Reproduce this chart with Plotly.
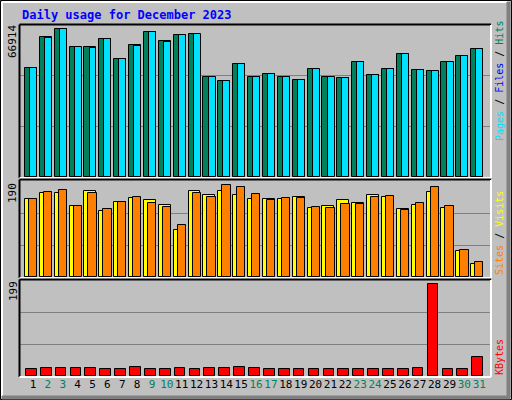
import plotly.graph_objects as go

days = list(range(1, 32))
hits = [47815, 61490, 65020, 57340, 57080, 60610, 51790, 57960, 63690, 59720, 62370, 62810,
        43850, 42080, 49580, 44110, 45170, 43850, 42520, 47370, 44110, 43400, 50460, 44730,
        47370, 53990, 46930, 46490, 50460, 53110, 56200]
files = [47815, 61050, 65020, 57340, 56640, 60610, 51790, 57520, 63690, 59290, 62370, 62810,
         43850, 42080, 49580, 44110, 45170, 43850, 42520, 47370, 44110, 43400, 50460, 44730,
         47370, 53990, 46930, 46490, 50460, 53110, 56200]
sites = [154, 166, 166, 140, 170, 130, 148, 156, 152, 142, 94, 170, 162, 170, 162, 154,
         154, 154, 158, 136, 140, 152, 146, 162, 158, 134, 142, 168, 136, 51, 25]
visits = [154, 168, 172, 140, 166, 134, 148, 158, 146, 138, 102, 166, 158, 183, 178, 164,
          152, 156, 156, 138, 136, 144, 144, 158, 160, 132, 146, 179, 140, 53, 29]
kbytes = [14, 16, 16, 16, 16, 14, 14, 18, 14, 14, 16, 14, 16, 16, 18, 16,
          14, 14, 14, 14, 14, 14, 14, 14, 14, 14, 16, 191, 14, 14, 39]
weekend = {2, 3, 9, 10, 16, 17, 23, 24, 30, 31}
max_hits, max_visits, max_kb = 66914, 190, 199

W, H = 512, 400
def fx(px): return px / W
def fy(py): return 1 - py / H

BG = "#C0C0C0"
fig = go.Figure()
blk = dict(color="black", width=1)
fig.add_bar(x=days, y=hits, width=0.8, offset=-0.54, marker=dict(color="#00805C", line=blk), xaxis="x", yaxis="y")
fig.add_bar(x=days, y=files, width=0.47, offset=-0.2, marker=dict(color="#00E0FF", line=blk), xaxis="x", yaxis="y")
fig.add_bar(x=days, y=sites, width=0.8, offset=-0.54, marker=dict(color="#FFFF00", line=blk), xaxis="x2", yaxis="y2")
fig.add_bar(x=days, y=visits, width=0.55, offset=-0.27, marker=dict(color="#FF8000", line=blk), xaxis="x2", yaxis="y2")
fig.add_bar(x=days, y=kbytes, width=0.72, offset=-0.47, marker=dict(color="#FF0000", line=blk), xaxis="x3", yaxis="y3")

xr = [0.128, 31.79]
xdom = [fx(20), fx(491)]
ticktext = [f'<span style="color:{"#00805C" if d in weekend else "black"}">{d}</span>' for d in days]
common_x = dict(range=xr, domain=xdom, showgrid=False, zeroline=False, showline=False, fixedrange=True)
def yax(top, bot, mx):
    return dict(range=[0, mx], domain=[fy(bot), fy(top)], tickvals=[mx / 3, 2 * mx / 3],
                showticklabels=False, showgrid=True, gridcolor="#808080", gridwidth=1,
                zeroline=False, showline=False, ticks="")
fig.update_layout(
    width=W, height=H, margin=dict(l=0, r=0, t=0, b=0),
    paper_bgcolor=BG, plot_bgcolor=BG, barmode="overlay", showlegend=False,
    bargap=0,
    xaxis=dict(**common_x, anchor="y", showticklabels=False),
    xaxis2=dict(**common_x, anchor="y2", showticklabels=False),
    xaxis3=dict(**common_x, anchor="y3", tickvals=days, ticktext=ticktext, ticks="",
                tickfont=dict(family="DejaVu Sans Mono", size=11), tickangle=0),
    yaxis=yax(25, 177, max_hits),
    yaxis2=yax(181, 277, max_visits),
    yaxis3=yax(280, 376, max_kb),
)

shapes = []
def line(x0, y0, x1, y1, c, w=1):
    shapes.append(dict(type="line", xref="paper", yref="paper", x0=fx(x0), y0=fy(y0), x1=fx(x1), y1=fy(y1),
                       line=dict(color=c, width=w)))
line(0.5, 0.5, 511.5, 0.5, "black"); line(0.5, 0.5, 0.5, 399.5, "black")
line(511.5, 0.5, 511.5, 399.5, "black"); line(0.5, 399.5, 511.5, 399.5, "black")
line(2, 2, 507, 2, "white", 2); line(2, 2, 2, 396, "white", 2)
line(508.5, 2, 508.5, 398, "#808080", 4); line(2, 397.5, 510, 397.5, "#808080", 4)
for top, bot in [(25, 177), (180, 277), (280, 376)]:
    line(19.5, top - 0.5, 491, top - 0.5, "black", 2)
    line(19.5, top - 0.5, 19.5, bot + 1, "black", 2)
    line(491, top, 491, bot + 1, "white", 2)
    line(19.5, bot + 1, 491, bot + 1, "white", 2)
fig.update_layout(shapes=shapes)

mono = "DejaVu Sans Mono"
def vtext(x, yc, text, size=11):
    return dict(x=fx(x), y=fy(yc), text=text, textangle=-90, xanchor="center", yanchor="middle",
                font=dict(family=mono, size=size, color="black"))
ann = [
    dict(x=fx(20), y=fy(15), text="<b>Daily usage for December 2023</b>", xanchor="left", yanchor="middle",
         font=dict(family=mono, size=12, color="#0000FF")),
    vtext(13, 42, f"{max_hits}"),
    vtext(13, 193, f"{max_visits}"),
    vtext(13, 291, f"{max_kb}"),
    vtext(499, 81, '<span style="color:#00E0FF">Pages</span><span style="color:black"> / </span>'
                   '<span style="color:#0000FF">Files</span><span style="color:black"> / </span>'
                   '<span style="color:#00805C">Hits</span>', 10),
    vtext(499, 233, '<span style="color:#FF8000">Sites</span><span style="color:black"> / </span>'
                    '<span style="color:#FFFF00">Visits</span>', 10),
    vtext(499, 357, '<span style="color:#FF0000">KBytes</span>', 10),
]
for a in ann:
    a.update(xref="paper", yref="paper", showarrow=False)
fig.update_layout(annotations=ann)
fig.write_html("out.html", config={"displayModeBar": False},
               post_script="document.body.style.margin='0';document.body.style.overflow='hidden';")
